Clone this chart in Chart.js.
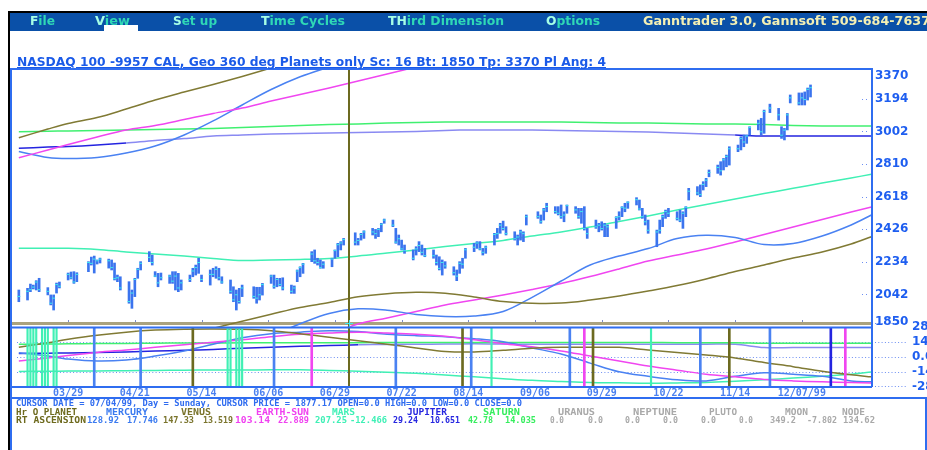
<!DOCTYPE html>
<html><head><meta charset="utf-8">
<script src="https://cdn.jsdelivr.net/npm/chart.js@4.4.0/dist/chart.umd.min.js"></script>
<style>
html,body{margin:0;padding:0;background:#fff;width:927px;height:450px;overflow:hidden;position:relative;}
#c{position:absolute;left:0;top:0;}
.t{position:absolute;white-space:nowrap;font-weight:bold;transform-origin:0 0;}
.menu{font-family:"DejaVu Sans",sans-serif;font-size:12px;line-height:14px;top:14px;color:#2fd8b6;}
.menu .hl{color:#a6ffe6;}
.info{font-family:"DejaVu Sans Mono",monospace;font-size:9px;line-height:10px;}
.r1{top:398px;color:#2f6cf0;}
.r2{top:407px;}
.r3{top:415px;}
.cO{color:#6e6a1e;} .cMe{color:#3a7af0;} .cV{color:#7a742c;} .cE{color:#f040f0;}
.cMa{color:#3ff0b6;} .cJ{color:#2626e0;} .cS{color:#36ee5e;} .cG{color:#a9a9a9;}
</style></head><body>
<div style="position:absolute;left:9px;top:11px;width:918px;height:2px;background:#000"></div>
<div style="position:absolute;left:10px;top:13px;width:917px;height:18px;background:#0a50a8"></div>
<div style="position:absolute;left:104px;top:25px;width:34px;height:6px;background:#fff"></div>
<div style="position:absolute;left:8px;top:11px;width:2px;height:439px;background:#000"></div>
<canvas id="c" width="927" height="450"></canvas>

<div class="t menu fit" style="left:30px" data-w="25"><span class="hl">F</span>ile</div>
<div class="t menu fit" style="left:95px" data-w="35"><span class="hl">V</span>iew</div>
<div class="t menu fit" style="left:173px" data-w="44"><span class="hl">S</span>et up</div>
<div class="t menu fit" style="left:261px" data-w="84"><span class="hl">T</span>ime Cycles</div>
<div class="t menu fit" style="left:388px" data-w="116"><span class="hl">TH</span>ird Dimension</div>
<div class="t menu fit" style="left:546px" data-w="54"><span class="hl">O</span>ptions</div>
<div class="t menu fit" style="left:643px;color:#f4f0b4" data-w="287">Ganntrader 3.0, Gannsoft 509-684-7637</div>

<div class="t fit" style="left:17px;top:55px;font-family:'DejaVu Sans',sans-serif;font-size:12px;line-height:14px;color:#1a5ae8;text-decoration:underline;" data-w="589">NASDAQ 100 -9957 CAL, Geo 360 deg Planets only Sc: 16 Bt: 1850 Tp: 3370 Pl Ang: 4</div>

<div class="t info r1 fit" style="left:16px" data-w="506">CURSOR DATE = 07/04/99, Day = Sunday, CURSOR PRICE = 1877.17 OPEN=0.0 HIGH=0.0 LOW=0.0 CLOSE=0.0</div>

<div class="t info r2 cO fit" style="left:16px" data-w="61">Hr O PLANET</div>
<div class="t info r2 cMe fit" style="left:106px" data-w="42">MERCURY</div>
<div class="t info r2 cV fit" style="left:181px" data-w="30">VENUS</div>
<div class="t info r2 cE fit" style="left:256px" data-w="53">EARTH-SUN</div>
<div class="t info r2 cMa fit" style="left:332px" data-w="23">MARS</div>
<div class="t info r2 cJ fit" style="left:407px" data-w="40">JUPITER</div>
<div class="t info r2 cS fit" style="left:483px" data-w="37">SATURN</div>
<div class="t info r2 cG fit" style="left:558px" data-w="37">URANUS</div>
<div class="t info r2 cG fit" style="left:633px" data-w="44">NEPTUNE</div>
<div class="t info r2 cG fit" style="left:709px" data-w="28">PLUTO</div>
<div class="t info r2 cG fit" style="left:785px" data-w="23">MOON</div>
<div class="t info r2 cG fit" style="left:842px" data-w="23">NODE</div>

<div class="t info r3 cO fit" style="left:16px" data-w="70">RT ASCENSION</div>
<div class="t info r3 cMe fit" style="left:87px" data-w="32">128.92</div>
<div class="t info r3 cMe fit" style="left:127px" data-w="31">17.746</div>
<div class="t info r3 cV fit" style="left:163px" data-w="31">147.33</div>
<div class="t info r3 cV fit" style="left:203px" data-w="30">13.519</div>
<div class="t info r3 cE fit" style="left:235px" data-w="35">103.14</div>
<div class="t info r3 cE fit" style="left:278px" data-w="31">22.889</div>
<div class="t info r3 cMa fit" style="left:315px" data-w="32">207.25</div>
<div class="t info r3 cMa fit" style="left:350px" data-w="37">-12.466</div>
<div class="t info r3 cJ fit" style="left:393px" data-w="25">29.24</div>
<div class="t info r3 cJ fit" style="left:430px" data-w="30">10.651</div>
<div class="t info r3 cS fit" style="left:468px" data-w="25">42.78</div>
<div class="t info r3 cS fit" style="left:505px" data-w="31">14.035</div>
<div class="t info r3 cG fit" style="left:550px" data-w="14">0.0</div>
<div class="t info r3 cG fit" style="left:588px" data-w="15">0.0</div>
<div class="t info r3 cG fit" style="left:625px" data-w="15">0.0</div>
<div class="t info r3 cG fit" style="left:663px" data-w="15">0.0</div>
<div class="t info r3 cG fit" style="left:701px" data-w="15">0.0</div>
<div class="t info r3 cG fit" style="left:739px" data-w="14">0.0</div>
<div class="t info r3 cG fit" style="left:770px" data-w="26">349.2</div>
<div class="t info r3 cG fit" style="left:807px" data-w="30">-7.802</div>
<div class="t info r3 cG fit" style="left:843px" data-w="32">134.62</div>

<script>
// ---------- DATA ----------
const barDates = [
 "03/12",
 "03/15","03/16","03/17","03/18","03/19",
 "03/22","03/23","03/24","03/25","03/26",
 "03/29","03/30","03/31","04/01",
 "04/05","04/06","04/07","04/08","04/09",
 "04/12","04/13","04/14","04/15","04/16",
 "04/19","04/20","04/21","04/22","04/23",
 "04/26","04/27","04/28","04/29","04/30",
 "05/03","05/04","05/05","05/06","05/07",
 "05/10","05/11","05/12","05/13","05/14",
 "05/17","05/18","05/19","05/20","05/21",
 "05/24","05/25","05/26","05/27","05/28",
 "06/01","06/02","06/03","06/04",
 "06/07","06/08","06/09","06/10","06/11",
 "06/14","06/15","06/16","06/17","06/18",
 "06/21","06/22","06/23","06/24","06/25",
 "06/28","06/29","06/30","07/01","07/02",
 "07/06","07/07","07/08","07/09",
 "07/12","07/13","07/14","07/15","07/16",
 "07/19","07/20","07/21","07/22","07/23",
 "07/26","07/27","07/28","07/29","07/30",
 "08/02","08/03","08/04","08/05","08/06",
 "08/09","08/10","08/11","08/12","08/13",
 "08/16","08/17","08/18","08/19","08/20",
 "08/23","08/24","08/25","08/26","08/27",
 "08/30","08/31","09/01","09/02","09/03",
 "09/07","09/08","09/09","09/10",
 "09/13","09/14","09/15","09/16","09/17",
 "09/20","09/21","09/22","09/23","09/24",
 "09/27","09/28","09/29","09/30","10/01",
 "10/04","10/05","10/06","10/07","10/08",
 "10/11","10/12","10/13","10/14","10/15",
 "10/18","10/19","10/20","10/21","10/22",
 "10/25","10/26","10/27","10/28","10/29",
 "11/01","11/02","11/03","11/04","11/05",
 "11/08","11/09","11/10","11/11","11/12",
 "11/15","11/16","11/17","11/18","11/19",
 "11/22","11/23","11/24","11/26",
 "11/29","11/30","12/01","12/02","12/03",
 "12/06","12/07","12/08","12/09","12/10"];
const barHigh = [
 2068,
 2078,2103,2097,2123,2137,
 2082,2039,2039,2109,2115,
 2168,2174,2176,2170,
 2235,2262,2268,2245,2256,
 2250,2245,2227,2156,2146,
 2117,2068,2137,2196,2235,
 2294,2274,2176,2166,2168,
 2156,2176,2176,2166,2127,
 2156,2196,2215,2255,2156,
 2186,2196,2205,2196,2146,
 2127,2087,2068,2078,2097,
 2087,2084,2084,2107,
 2156,2156,2137,2137,2140,
 2097,2092,2186,2205,2225,
 2294,2304,2255,2245,2235,
 2255,2304,2343,2353,2372,
 2405,2372,2402,2417,
 2431,2425,2431,2461,2486,
 2480,2431,2392,2362,2333,
 2304,2323,2353,2333,2313,
 2304,2274,2264,2245,2235,
 2205,2186,2235,2255,2313,
 2343,2353,2353,2313,2327,
 2402,2431,2461,2474,2441,
 2411,2392,2421,2411,2510,
 2529,2510,2549,2579,
 2559,2559,2569,2529,2569,
 2559,2549,2549,2559,2431,
 2480,2461,2470,2461,2451,
 2500,2529,2559,2579,2588,
 2612,2598,2549,2510,2480,
 2421,2480,2510,2539,2549,
 2529,2539,2529,2559,2667,
 2677,2687,2706,2726,2775,
 2804,2824,2843,2863,2912,
 2922,2971,2981,2981,3030,
 3069,3079,3128,3163,
 3138,3030,3020,3108,3217,
 3229,3229,3235,3258,3276];
const barLow = [
 1999,
 2009,2058,2074,2068,2058,
 2039,1980,1950,2050,2080,
 2127,2133,2107,2117,
 2176,2215,2168,2221,2227,
 2197,2186,2127,2117,2068,
 1990,1960,2029,2137,2186,
 2235,2215,2146,2087,2127,
 2107,2107,2068,2058,2068,
 2117,2146,2156,2166,2117,
 2097,2146,2137,2127,2107,
 2048,1999,1950,1990,2029,
 2019,1990,2009,2038,
 2107,2078,2087,2092,2068,
 2048,2048,2117,2146,2166,
 2235,2225,2215,2196,2196,
 2205,2255,2264,2304,2333,
 2333,2333,2362,2372,
 2392,2372,2382,2411,2461,
 2441,2343,2333,2304,2284,
 2245,2274,2294,2274,2264,
 2255,2215,2186,2156,2196,
 2156,2123,2166,2196,2255,
 2294,2313,2304,2274,2284,
 2333,2372,2402,2421,2392,
 2362,2333,2362,2353,2451,
 2490,2461,2480,2529,
 2520,2510,2490,2470,2520,
 2520,2490,2461,2421,2372,
 2431,2411,2421,2382,2382,
 2431,2480,2500,2529,2549,
 2569,2539,2490,2451,2402,
 2323,2402,2441,2490,2500,
 2480,2470,2431,2500,2598,
 2628,2618,2657,2677,2735,
 2755,2745,2775,2794,2804,
 2883,2893,2912,2932,2981,
 3011,2981,2991,3113,
 3069,2961,2952,3011,3170,
 3158,3158,3158,3187,3205];
const barClose = [
 2030,
 2060,2070,2085,2115,2070,
 2060,1990,2020,2100,2090,
 2160,2140,2115,2160,
 2230,2225,2250,2240,2250,
 2240,2200,2135,2140,2080,
 2000,2050,2130,2190,2225,
 2260,2230,2150,2110,2140,
 2150,2120,2150,2080,2110,
 2130,2180,2200,2230,2130,
 2160,2160,2190,2140,2115,
 2060,2010,2040,2000,2080,
 2030,2020,2040,2100,
 2150,2090,2130,2100,2080,
 2060,2080,2180,2200,2220,
 2280,2240,2230,2200,2220,
 2250,2300,2335,2345,2365,
 2350,2360,2395,2410,
 2410,2400,2425,2455,2480,
 2450,2350,2370,2310,2300,
 2255,2310,2330,2290,2270,
 2270,2230,2195,2230,2210,
 2170,2150,2225,2220,2305,
 2320,2345,2310,2290,2320,
 2395,2400,2450,2430,2400,
 2370,2380,2410,2400,2500,
 2500,2470,2540,2560,
 2530,2520,2500,2510,2565,
 2540,2500,2530,2430,2400,
 2440,2450,2430,2450,2440,
 2495,2500,2555,2550,2585,
 2600,2545,2500,2470,2420,
 2410,2420,2500,2530,2520,
 2490,2480,2520,2555,2650,
 2640,2630,2690,2715,2760,
 2790,2770,2835,2855,2900,
 2900,2960,2940,2975,3025,
 3050,3000,3120,3140,
 3100,2980,3010,3100,3200,
 3170,3200,3190,3250,3260];

// planet line samples
const lineDates = ["03/12","03/22","03/29","04/08","04/18","04/28","05/08","05/18","05/28","06/07","06/17","06/27","07/07","07/17","07/27","08/06","08/16","08/26","09/05","09/15","09/25","10/05","10/15","10/25","11/04","11/14","11/24","12/04","12/14","12/24","12/31"];
// price-panel planet lines
const venusHi   = [2965,3016,3049,3084,3134,3187,3234,3279,3326,3376,3423,null,null,null,null,null,null,null,null,null,null,null,null,null,null,null,null,null,null,null,null];
const earthHi   = [2847,2893,2925,2969,3011,3037,3072,3108,3140,3181,3220,3258,3299,3340,3382,3423,null,null,null,null,null,null,null,null,null,null,null,null,null,null,null];
const mercuryHi = [2884,2849,2843,2849,2875,2916,2981,3064,3158,3249,3324,3382,3435,null,null,null,null,null,null,null,null,null,null,null,null,null,null,null,null,null,null];
const saturnP   = [3000,3003,3005,3008,3011,3013,3016,3019,3025,3031,3037,3043,3046,3052,3055,3058,3058,3058,3058,3058,3055,3052,3052,3049,3046,3046,3043,3037,3034,3034,3034];
const jupiterP  = [2903,2910,2913,2922,2934,2949,2960,2975,2981,2987,2990,2993,2996,2999,3002,3008,3011,3011,3011,3008,3005,3002,2999,2993,2987,2981,2975,2975,2975,2975,2975];
const marsP     = [2314,2314,2314,2307,2292,2280,2268,2254,2242,2245,2248,2254,2268,2286,2304,2324,2342,2360,2386,2410,2439,2472,2504,2539,2572,2604,2636,2667,2698,2728,2750];
const venusLo   = [null,null,null,null,null,null,1800,1842,1884,1925,1965,1994,2028,2046,2054,2049,2027,2000,1990,1991,2009,2033,2062,2094,2133,2177,2215,2256,2292,2339,2382];
const mercuryLo = [null,null,null,null,null,null,null,null,null,1797,1869,1930,1957,1949,1924,1912,1915,1941,2025,2121,2215,2268,2312,2371,2390,2377,2336,2342,2386,2451,2510];
const earthLo   = [null,null,null,null,null,null,null,null,null,null,null,1803,1868,1903,1941,1980,2009,2039,2071,2106,2147,2192,2239,2274,2309,2351,2395,2439,2483,2527,2557];
// lower panel (declination) lines
const venusD   = [9.0,13.3,16.6,20.4,23.2,25.1,25.9,26.1,25.8,24.5,21.8,18.5,15.2,11.9,8.5,5.2,4.7,6.2,8.1,9.0,9.0,9.0,6.6,4.3,1.9,-0.9,-5.2,-9.0,-13.3,-16.6,-18.5];
const earthD   = [-3.8,-0.9,1.4,4.3,6.6,9.0,11.4,13.8,16.1,19.0,21.3,22.3,23.0,22.3,21.3,19.4,16.1,12.3,9.5,5.7,0.9,-3.8,-8.5,-12.3,-16.1,-18.5,-20.9,-22.3,-23.2,-23.7,-24.2];
const mercuryD = [4.0,0.9,-1.9,-3.8,-2.8,0.9,5.7,11.9,18.0,21.8,23.2,24.5,23.7,21.3,19.9,19.0,17.1,14.2,8.5,2.8,-5.7,-13.8,-18.0,-21.3,-22.3,-18.0,-14.7,-16.1,-18.0,-22.3,-23.2];
const saturnD  = [11.9,12.1,12.3,12.5,12.7,12.9,13.0,13.1,13.2,13.3,13.3,13.4,13.4,13.5,13.5,13.5,13.5,13.5,13.5,13.5,13.5,13.5,13.5,13.4,13.4,13.3,12.8,12.8,12.8,12.8,12.8];
const jupiterD = [3.3,3.5,3.8,4.2,4.7,5.5,6.2,7.1,8.1,9.0,10.0,10.7,11.4,11.7,11.9,12.1,12.3,12.1,11.9,11.9,11.9,11.9,11.9,11.9,11.9,11.9,8.8,8.8,8.8,8.8,8.8];
const marsD    = [-13.5,-13.3,-13.1,-13.0,-12.8,-12.6,-12.3,-12.2,-12.1,-12.0,-11.9,-12.5,-13.3,-14.2,-15.2,-16.8,-18.5,-20.2,-21.8,-22.8,-23.7,-24.1,-24.5,-24.2,-23.7,-22.6,-21.3,-19.7,-18.0,-16.0,-14.0];
// event (aspect) dates shown as vertical lines in the lower panel
const marsEvents    = ["03/15","03/16","03/17","03/18","03/20","03/21","03/22","03/24","03/25","05/23","05/24","05/26","05/27","05/28","08/22","10/16"];
const mercuryEvents = ["04/07","04/23","06/08","07/20","08/15","09/18","11/02","11/26"];
const venusEvents   = ["05/11","08/12","09/26","11/12"];
const earthEvents   = ["06/21","09/23","12/22"];
const jupiterEvents = ["12/17"];
const cursorDate = "07/04";
// tick labels
const xTickLabels = ["03/29","04/21","05/14","06/06","06/29","07/22","08/14","09/06","09/29","10/22","11/14","12/07/99"];
const yTickLabels = [1850,2042,2234,2426,2618,2810,3002,3194,3370];
const y2TickLabels = [-28,-14,0,14,28];

// ---------- HELPERS ----------
const BASE = Date.UTC(1999,2,29);
function dayOf(s){ const p = s.split('/'); return (Date.UTC(1999, +p[0]-1, +p[1]) - BASE) / 864e5; }
const pts = arr => lineDates.map((d,i)=>({x:dayOf(d), y:arr[i]}));
const evBars = arr => arr.map(d=>({x:dayOf(d), y:[-28,28]}));

const C = {mercury:'#4a82f2', venus:'#807a34', earth:'#f046f0', mars:'#40f0b4', jupiter:'#2424e0', saturn:'#40f070', frame:'#2f6df0'};

function mainLine(label, arr, color, extra){
  return Object.assign({type:'line', label, data:pts(arr), yAxisID:'y', borderColor:color, borderWidth:1.5,
    pointRadius:0, tension:0.35}, extra||{});
}
function lowLine(label, arr, color, extra){
  return Object.assign({type:'line', label, data:pts(arr), yAxisID:'y2', borderColor:color, borderWidth:1.5,
    pointRadius:0, tension:0.35}, extra||{});
}
function evSet(label, arr, color, w){
  return {type:'bar', label, data:evBars(arr), yAxisID:'y2', backgroundColor:color, barThickness:w, grouped:false};
}

const deco = {
  id:'deco',
  beforeDatasetsDraw(chart){
    const {ctx, chartArea:a, scales:{x,y,y2}} = chart;
    ctx.save();
    ctx.fillStyle = '#aaa27e';
    ctx.fillRect(a.left, y.bottom-5, a.right-a.left, 3);
    ctx.fillStyle = '#7b8cc8';
    xTickLabels.forEach(l=>{ const px=Math.round(x.getPixelForValue(dayOf(l))); ctx.fillRect(px, y.bottom-7, 1, 2); });
    ctx.strokeStyle = '#6d8ef2'; ctx.lineWidth = 1; ctx.setLineDash([1,2.3]);
    [14,0,-14].forEach(v=>{ const py=Math.round(y2.getPixelForValue(v))+0.5; ctx.beginPath(); ctx.moveTo(a.left+6,py); ctx.lineTo(906,py); ctx.stroke(); });
    [28,-28].forEach(v=>{ const py=Math.round(y2.getPixelForValue(v))+(v>0?-3.5:-0.5); ctx.beginPath(); ctx.moveTo(a.right+3,py); ctx.lineTo(906,py); ctx.stroke(); });
    ctx.setLineDash([]);
    ctx.fillStyle = '#6d8ef2';
    yTickLabels.slice(1,-1).forEach(v=>{ const py=Math.round(y.getPixelForValue(v)); ctx.fillRect(a.right-10,py,1,1); ctx.fillRect(a.right-6,py,1,1); });
    ctx.restore();
  },
  afterDatasetsDraw(chart){
    const {ctx, chartArea:a, scales:{x,y,y2}} = chart;
    ctx.save();
    const cx = Math.round(x.getPixelForValue(dayOf(cursorDate)));
    ctx.strokeStyle = '#6c6a20'; ctx.lineWidth = 2;
    ctx.beginPath(); ctx.moveTo(cx, y.top); ctx.lineTo(cx, y2.bottom); ctx.stroke();
    ctx.strokeStyle = '#3ce8f0'; ctx.lineWidth = 1;
    ctx.beginPath(); ctx.moveTo(cx-4, y.bottom-3.5); ctx.lineTo(cx+4, y.bottom-3.5); ctx.moveTo(cx+0.5, y.bottom-7); ctx.lineTo(cx+0.5, y.bottom); ctx.stroke();
    ctx.strokeStyle = C.frame; ctx.lineWidth = 2;
    ctx.beginPath();
    ctx.moveTo(a.left-1, y.top); ctx.lineTo(a.right+1, y.top);
    ctx.moveTo(a.right, y.top); ctx.lineTo(a.right, y2.bottom);
    ctx.moveTo(a.left, y2.top+0.5); ctx.lineTo(a.right, y2.top+0.5);
    ctx.moveTo(a.left, y2.bottom); ctx.lineTo(a.right, y2.bottom);
    ctx.moveTo(a.left, y.top); ctx.lineTo(a.left, 450);
    ctx.moveTo(a.left, 398); ctx.lineTo(927, 398);
    ctx.moveTo(926, 398); ctx.lineTo(926, 450);
    ctx.stroke();
    ctx.fillStyle = '#1e5ef0'; ctx.font = 'bold 12px "DejaVu Sans"'; ctx.textAlign='left'; ctx.textBaseline='middle';
    yTickLabels.forEach(v=>{ let py=y.getPixelForValue(v); py=Math.min(Math.max(py, y.top+7), y.bottom-5); ctx.fillText(String(v), a.right+3, py); });
    ctx.restore();
  }
};

Chart.defaults.font.family = '"DejaVu Sans", sans-serif';

new Chart(document.getElementById('c'), {
  type:'bar',
  data:{ datasets:[
    {type:'line', label:'close', data:barDates.map((d,i)=>({x:dayOf(d), y:barClose[i]})), yAxisID:'y', showLine:false,
      pointStyle:'line', pointRadius:1.5, pointBorderWidth:1, pointBorderColor:'#3ce8f0', pointBackgroundColor:'#3ce8f0'},
    {type:'bar', label:'NASDAQ 100', data:barDates.map((d,i)=>({x:dayOf(d), y:[barLow[i], barHigh[i]]})), yAxisID:'y',
      backgroundColor:'#3b74ee', barThickness:2, grouped:false},
    mainLine('Venus hi', venusHi, C.venus),
    mainLine('Earth hi', earthHi, C.earth),
    mainLine('Mercury hi', mercuryHi, C.mercury),
    mainLine('Saturn', saturnP, C.saturn),
    mainLine('Jupiter', jupiterP, C.jupiter, {segment:{borderColor:c=>(c.p0DataIndex>=4 && c.p0DataIndex<25)?'#8a8af2':'#2424e0'}}),
    mainLine('Mars', marsP, C.mars),
    mainLine('Venus lo', venusLo, C.venus),
    mainLine('Mercury lo', mercuryLo, C.mercury),
    mainLine('Earth lo', earthLo, C.earth),
    evSet('Mercury ev', mercuryEvents, C.mercury, 2),
    evSet('Venus ev', venusEvents, '#6c6a20', 2),
    evSet('Earth ev', earthEvents, C.earth, 2),
    evSet('Mars ev', marsEvents, C.mars, 1.5),
    evSet('Jupiter ev', jupiterEvents, C.jupiter, 2),
    lowLine('Venus D', venusD, C.venus),
    lowLine('Earth D', earthD, C.earth),
    lowLine('Mercury D', mercuryD, C.mercury),
    lowLine('Saturn D', saturnD, C.saturn),
    lowLine('Jupiter D', jupiterD, '#3a3ae6', {segment:{borderColor:c=>(c.p0DataIndex>=12)?'#8a8af2':'#2424e0'}}),
    lowLine('Mars D', marsD, C.mars)
  ]},
  options:{
    responsive:false, animation:false, devicePixelRatio:1,
    layout:{padding:{top:69, left:11, right:0, bottom:50}},
    plugins:{legend:{display:false}, tooltip:{enabled:false}},
    scales:{
      x:{type:'linear', position:'bottom', min:-19.7, max:277.2, offset:false,
        afterBuildTicks(s){ s.ticks = xTickLabels.map(l=>({value:dayOf(l)})); },
        ticks:{autoSkip:false, maxRotation:0, padding:0, color:'#4a80f0',
          font:{family:'"DejaVu Sans Mono", monospace', size:10, weight:'bold'},
          callback:(v,i)=>xTickLabels[i]},
        grid:{display:false, drawTicks:false}, border:{display:false},
        afterFit(s){ s.height = 13; }},
      y:{type:'linear', position:'right', stack:'p', stackWeight:258, min:1850, max:3370,
        ticks:{display:false}, grid:{display:false, drawTicks:false}, border:{display:false},
        afterFit(s){ s.width = 55; }},
      y2:{type:'linear', position:'right', stack:'p', stackWeight:60, min:-28, max:28,
        afterBuildTicks(s){ s.ticks = y2TickLabels.map(v=>({value:v})); },
        ticks:{autoSkip:false, padding:40, color:'#1f5ff0', font:{size:12, weight:'bold'},
          callback:v=> v===0 ? '0.0' : String(v)},
        grid:{display:false, drawTicks:false}, border:{display:false},
        afterFit(s){ s.width = 55; }}
    }
  },
  plugins:[deco]
});

document.querySelectorAll('.fit').forEach(el=>{
  const w = el.getBoundingClientRect().width;
  if (w > 0) el.style.transform = 'scaleX(' + (parseFloat(el.dataset.w)/w) + ')';
});
</script>
</body></html>
